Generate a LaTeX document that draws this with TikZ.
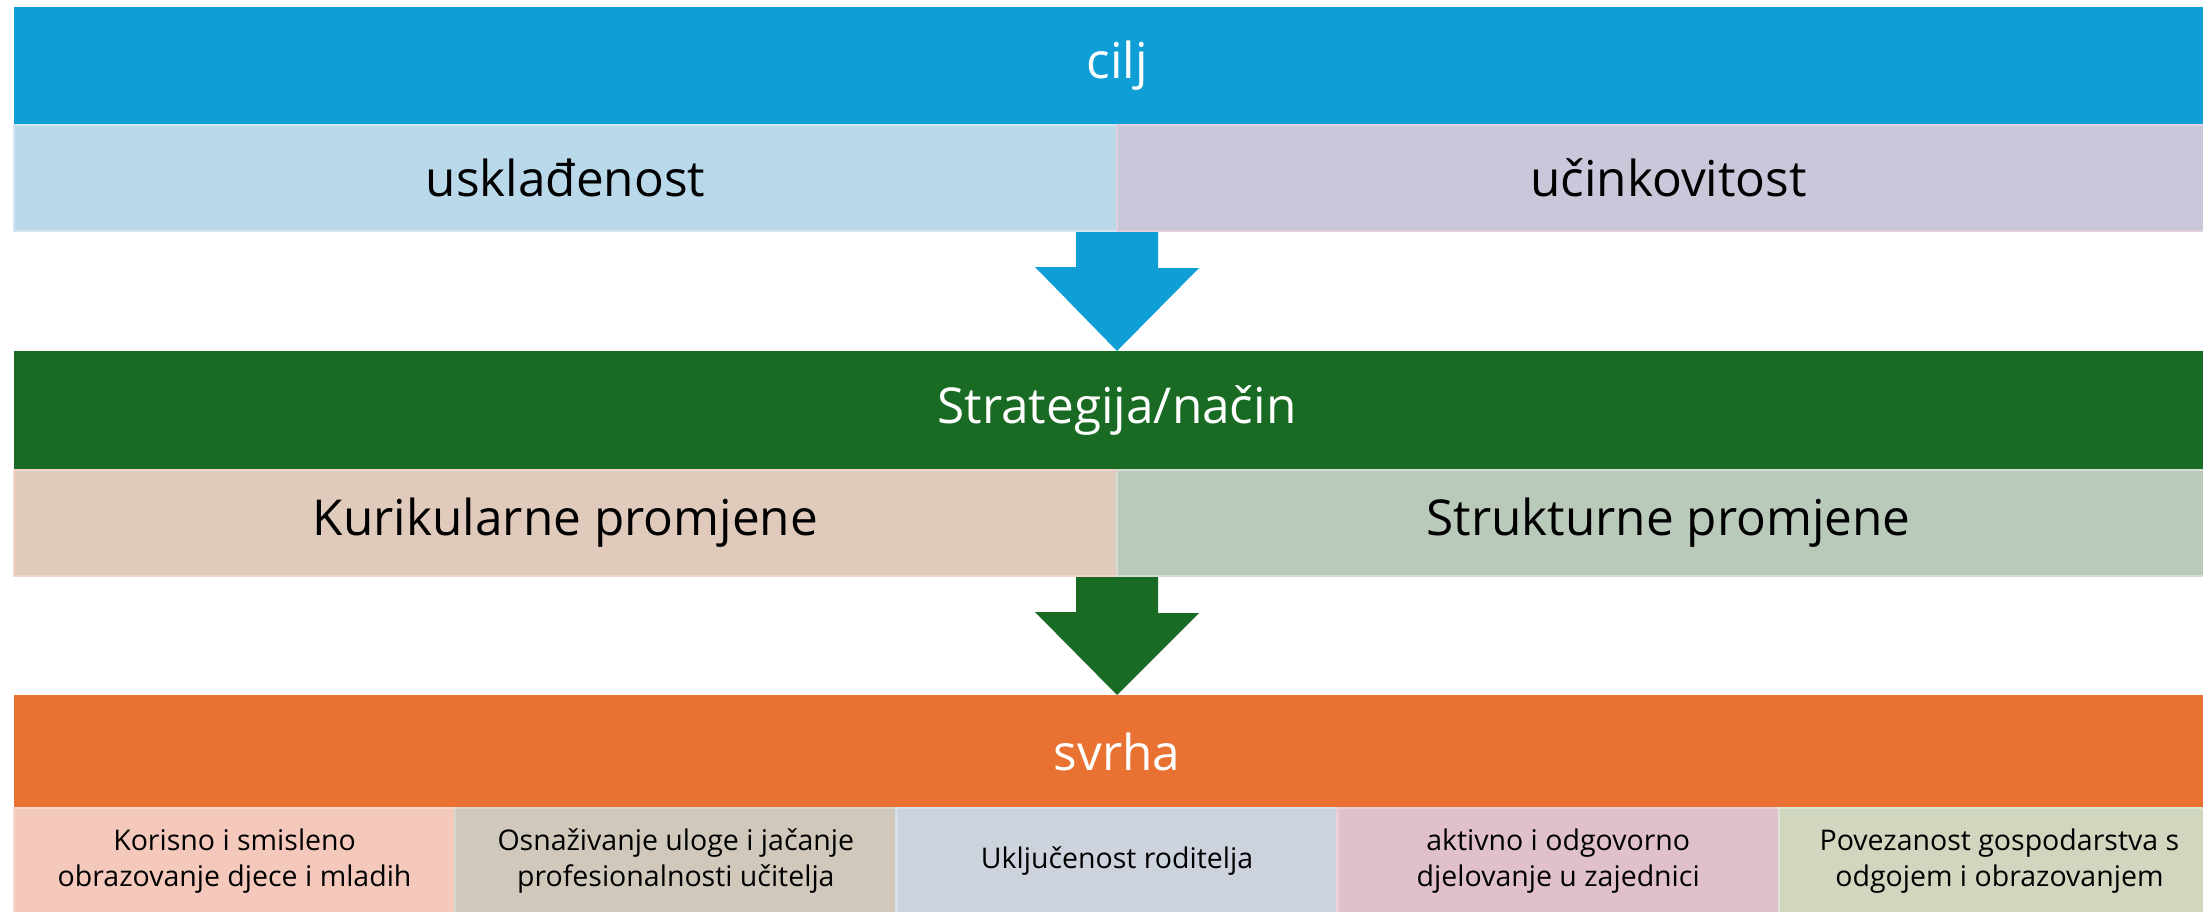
\documentclass[tikz,border=0pt]{standalone}
\usepackage{fontspec}
\setmainfont{Open Sans}
\usetikzlibrary{calc}
\definecolor{cBlue}{HTML}{0F9ED5}
\definecolor{cLB}{HTML}{B9D9EB}
\definecolor{cLBd}{HTML}{D3E6F2}
\definecolor{cLav}{HTML}{C9C8DA}
\definecolor{cLavd}{HTML}{E3D0DE}
\definecolor{cGreen}{HTML}{196B24}
\definecolor{cBeige}{HTML}{E0CABB}
\definecolor{cBeiged}{HTML}{F3D3CC}
\definecolor{cSage}{HTML}{B9CABB}
\definecolor{cSaged}{HTML}{D3DDD4}
\definecolor{cOrange}{HTML}{E97132}
\definecolor{bA}{HTML}{F4C9BC}
\definecolor{bAd}{HTML}{F7D6CD}
\definecolor{bB}{HTML}{CFC8BB}
\definecolor{bBd}{HTML}{D6D6CC}
\definecolor{bC}{HTML}{CDD3DD}
\definecolor{bCd}{HTML}{D6E0EC}
\definecolor{bD}{HTML}{E0C1CB}
\definecolor{bDd}{HTML}{EBCFD6}
\definecolor{bE}{HTML}{D1D6BE}
\definecolor{bEd}{HTML}{D9E6D4}
\begin{document}
\begin{tikzpicture}[x=1pt,y=-1pt,
  bar/.style={rectangle, inner sep=0pt, outer sep=0pt, minimum width=2206pt, anchor=north west,
    text=white, font=\fontsize{49.5}{58}\selectfont},
  half/.style={rectangle, inner sep=0pt, outer sep=0pt, minimum width=1103pt, minimum height=106pt,
    anchor=north west, font=\fontsize{49.5}{58}\selectfont, line width=2.5pt},
  cell/.style={rectangle, inner sep=0pt, outer sep=0pt, minimum width=441.2pt, minimum height=106pt,
    anchor=north west, align=center, font=\fontsize{28.5}{36}\selectfont, line width=2.5pt}]
\useasboundingbox (0,0) rectangle (2203,911);
% level 1
\node[bar, fill=cBlue, minimum height=118pt] (cilj) at (14,7) {cilj};
\node[half, fill=cLB, draw=cLBd] (usk) at (14,125) {uskla\dj enost};
\node[half, fill=cLav, draw=cLavd] (uci) at (1117,125) {učinkovitost};
% level 2
\node[bar, fill=cGreen, minimum height=119pt] (strat) at (14,351) {Strategija/način};
\node[half, fill=cBeige, draw=cBeiged] (kur) at (14,470) {Kurikularne promjene};
\node[half, fill=cSage, draw=cSaged] (str) at (1117,470) {Strukturne promjene};
% level 3
\node[bar, fill=cOrange, minimum height=113pt] (svrha) at (14,695) {svrha};
\node[cell, fill=bA, draw=bAd] (c1) at (14,808) {Korisno i smisleno\\obrazovanje djece i mladih};
\node[cell, fill=bB, draw=bBd] (c2) at (455.2,808) {Osnaživanje uloge i jačanje\\profesionalnosti učitelja};
\node[cell, fill=bC, draw=bCd] (c3) at (896.4,808) {Uključenost roditelja};
\node[cell, fill=bD, draw=bDd] (c4) at (1337.6,808) {aktivno i odgovorno\\djelovanje u zajednici};
\node[cell, fill=bE, draw=bEd] (c5) at (1778.8,808) {Povezanost gospodarstva s\\odgojem i obrazovanjem};
% block arrows
\fill[cBlue] ($(uci.south west)+(-41,1)$) -- ++(82,0) -- ++(0,36) -- ++(41,0)
  -- (uci.south west |- strat.north) -- ++(-82,-84) -- ++(41,0) -- cycle;
\fill[cGreen] ($(str.south west)+(-41,1)$) -- ++(82,0) -- ++(0,36) -- ++(41,0)
  -- (str.south west |- svrha.north) -- ++(-82,-83) -- ++(41,0) -- cycle;
\end{tikzpicture}
\end{document}
